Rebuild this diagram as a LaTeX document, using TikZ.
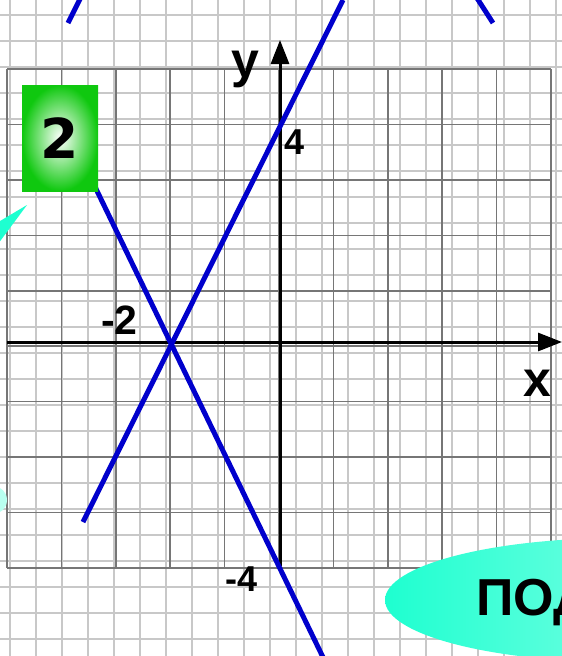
\documentclass[tikz,border=0pt]{standalone}
\usepackage{fontspec}
\setmainfont{Liberation Sans}
\newfontfamily\dvs{DejaVu Sans}
\usetikzlibrary{arrows.meta,shapes.geometric}
\definecolor{gridlight}{RGB}{200,200,200}
\definecolor{griddark}{RGB}{118,118,118}
\definecolor{lineblue}{RGB}{0,0,204}
\definecolor{aqua}{RGB}{30,255,208}
\definecolor{aqualight}{RGB}{185,255,240}
\definecolor{badgegreen}{RGB}{15,200,15}
\tikzset{
  lightgrid/.style={gridlight, line width=1.5pt},
  darkgrid/.style={griddark, line width=1.6pt},
  axisline/.style={line width=3pt, -{Triangle[length=24pt,width=18pt]}},
  graphline/.style={lineblue, line width=5pt},
  lab/.style={font=\bfseries\fontsize{#1pt}{#1pt}\selectfont, inner sep=0pt},
  badgebox/.style={minimum width=76pt, minimum height=106pt, inner sep=0pt,
    inner color=white, outer color=badgegreen,
    font=\dvs\bfseries\fontsize{55pt}{55pt}\selectfont},
  bubble/.style={ellipse, minimum width=470pt, minimum height=124pt,
    left color=aqua, right color=aqualight, inner sep=0pt},
}
\begin{document}
\begin{tikzpicture}[x=1pt,y=-1pt]
\useasboundingbox (0,0) rectangle (562,656);
\clip (0,0) rectangle (562,656);
\fill[white] (0,0) rectangle (562,656);
% paper grid
\foreach \k in {0,...,21} \draw[lightgrid] ({10+26*\k},0) -- ({10+26*\k},656);
\foreach \k in {0,...,24} \draw[lightgrid] (0,{15+26*\k}) -- (562,{15+26*\k});
% coordinate grid
\foreach \k in {0,...,10} \draw[darkgrid] ({7+54.4*\k},69) -- ({7+54.4*\k},568);
\foreach \k in {0,...,9} \draw[darkgrid] (7,{69+55.44*\k}) -- (551,{69+55.44*\k});
% axes
\coordinate (xs) at (7,342);
\coordinate (xe) at (562,342);
\coordinate (ys) at (280,566);
\coordinate (ye) at (280,40);
\draw[axisline] (xs) -- (xe);
\draw[axisline] (ys) -- (ye);
% graph lines
\coordinate (a1) at (343,0);
\coordinate (a2) at (83,522);
\coordinate (b1) at (83,162);
\coordinate (b2) at (334,680);
\draw[graphline] (a2) -- (a1);
\draw[graphline] (b1) -- (b2);
% stray line pieces at top
\coordinate (s1a) at (68,23);
\coordinate (s1b) at (82,-5);
\coordinate (s2a) at (493,23);
\coordinate (s2b) at (475,-5);
\draw[graphline] (s1a) -- (s1b);
\draw[graphline] (s2a) -- (s2b);
% labels
\node[lab=50] (ylab) at (245,69) {y};
\node[lab=50] (xlab) at (537,383) {x};
\node[lab=36] (l4) at (294.5,142.5) {4};
\node[lab=41] (lm2) at (119.5,320.5) {-2};
\node[lab=36] (lm4) at (241.5,579.5) {-4};
% badge
\node[badgebox] (badge) at (60,138) {2};
% cyan shapes
\fill[aqua] (-5,224) -- (27,205) -- (-5,248) -- cycle;
\fill[aqualight] (-7,500) circle (14);
\node[bubble] (bub) at (620,600) {};
\node[lab=52, anchor=base west] (bubtext) at (476,615) {ПОД};
\end{tikzpicture}
\end{document}
